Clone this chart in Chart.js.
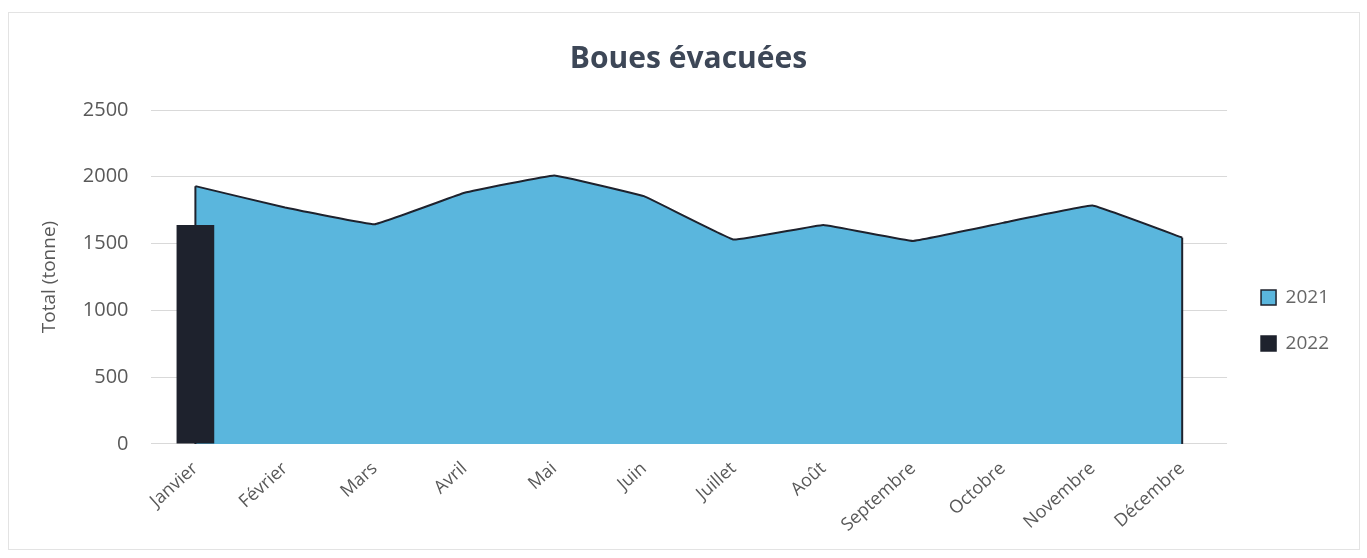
<!DOCTYPE html>
<html>
<head>
<meta charset="utf-8">
<script src="https://cdn.jsdelivr.net/npm/chart.js@4.4.0/dist/chart.umd.min.js"></script>
<style>
  html, body { margin: 0; padding: 0; background: #fff; }
  #wrap { position: absolute; left: 8px; top: 12px; width: 1352px; height: 538px; border: 1px solid #e3e3e3; box-sizing: border-box; }
  canvas { display: block; }
</style>
</head>
<body>
<div id="wrap"><canvas id="chart" width="1350" height="536"></canvas></div>
<script>
// data
const months = ["Janvier", "Février", "Mars", "Avril", "Mai", "Juin", "Juillet", "Août", "Septembre", "Octobre", "Novembre", "Décembre"];
const values2021 = [1930, 1770, 1645, 1880, 2010, 1855, 1530, 1640, 1520, 1655, 1785, 1545];
const values2022 = [1640, null, null, null, null, null, null, null, null, null, null, null];
const yTicks = [0, 500, 1000, 1500, 2000, 2500];

const areaBlue = "#5ab6dd";
const darkNavy = "#1e222d";
const textGrey = "#595959";
const font = "Open Sans";

// Excel closes the area with vertical edges at both ends
const areaEdges = {
  id: "areaEdges",
  afterDatasetDraw(c, args) {
    if (args.index !== 0) return;
    const pts = args.meta.data;
    const base = c.scales.y.getPixelForValue(0);
    const ctx = c.ctx;
    ctx.save();
    ctx.strokeStyle = darkNavy;
    ctx.lineWidth = 2;
    [pts[0], pts[pts.length - 1]].forEach(p => {
      ctx.beginPath();
      ctx.moveTo(p.x, p.y);
      ctx.lineTo(p.x, base);
      ctx.stroke();
    });
    ctx.restore();
  }
};

const ctx = document.getElementById("chart").getContext("2d");
const chart = new Chart(ctx, {
  data: {
    labels: months,
    datasets: [
      {
        type: "line",
        label: "2021",
        data: values2021,
        backgroundColor: areaBlue,
        borderColor: darkNavy,
        borderWidth: 2,
        fill: "origin",
        tension: 0.06,
        pointRadius: 0,
        order: 2
      },
      {
        type: "bar",
        label: "2022",
        data: values2022,
        backgroundColor: darkNavy,
        borderWidth: 0,
        barPercentage: 0.42,
        categoryPercentage: 1,
        order: 1
      }
    ]
  },
  options: {
    responsive: false,
    animation: false,
    layout: { padding: { left: 29, right: 20, top: 14, bottom: 7 } },
    plugins: {
      title: {
        display: true,
        text: "Boues évacuées",
        color: "#3d4757",
        font: { family: font, size: 30, weight: "bold" },
        padding: { top: 14, bottom: 33 }
      },
      legend: {
        display: true,
        position: "right",
        title: { display: true, text: " ", font: { size: 10 }, padding: { top: 30, bottom: 30 } },
        labels: {
          color: textGrey,
          font: { family: font, size: 19 },
          boxWidth: 15,
          boxHeight: 15,
          padding: 27,
          generateLabels: c => c.data.datasets.map((d, i) => ({
            text: d.label,
            fillStyle: d.backgroundColor,
            strokeStyle: darkNavy,
            lineWidth: 1.5,
            datasetIndex: i
          }))
        }
      },
      tooltip: { enabled: false }
    },
    scales: {
      x: {
        offset: true,
        grid: { display: false },
        border: { display: false },
        ticks: {
          color: textGrey,
          font: { family: font, size: 18 },
          minRotation: 42,
          maxRotation: 42,
          padding: 6
        }
      },
      y: {
        min: 0,
        max: 2500,
        afterBuildTicks: axis => { axis.ticks = yTicks.map(v => ({ value: v })); },
        grid: { color: "#d9d9d9", lineWidth: 1, drawTicks: false },
        border: { display: false },
        title: {
          display: true,
          text: "Total (tonne)",
          color: textGrey,
          font: { family: font, size: 19 },
          padding: { top: 0, bottom: 0 }
        },
        ticks: {
          color: textGrey,
          font: { family: font, size: 20 },
          padding: 22,
          callback: v => String(v)
        }
      },
      // empty spacer between the plot and the legend
      gap: {
        position: "right",
        display: true,
        grid: { display: false },
        border: { display: false },
        ticks: { display: false },
        afterFit: a => { a.width = 7; }
      }
    }
  },
  plugins: [areaEdges]
});
</script>
</body>
</html>
